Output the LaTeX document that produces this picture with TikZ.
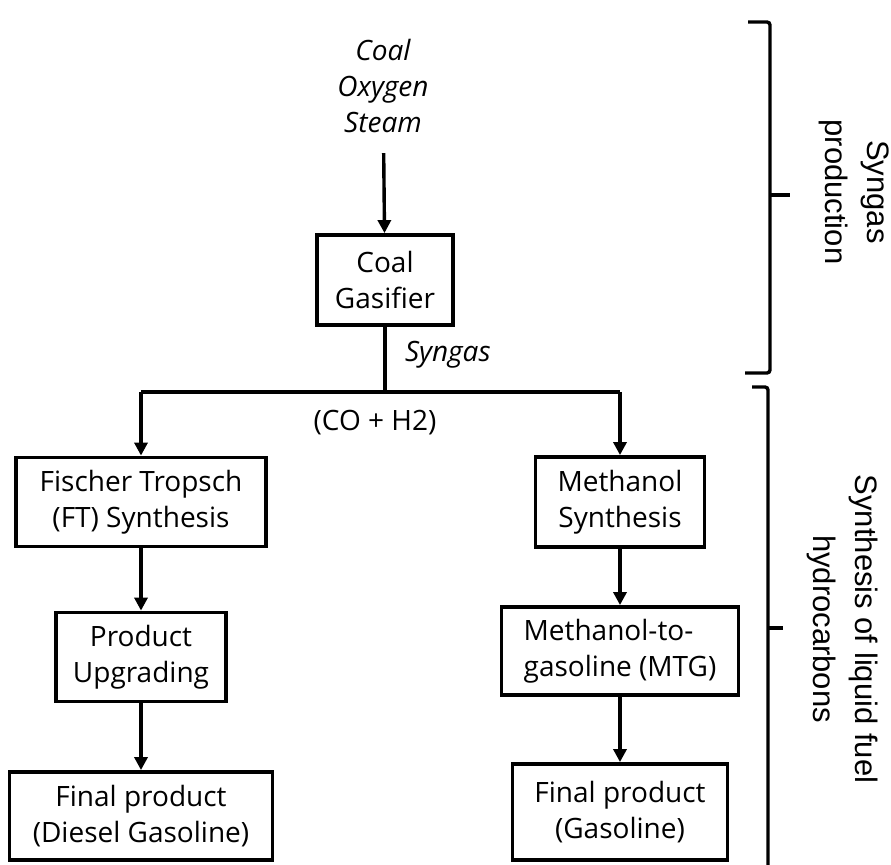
\documentclass[tikz,border=0pt]{standalone}
\usepackage{fontspec}
\setmainfont{Open Sans}
\newfontfamily\braceFont{Liberation Sans}
\usetikzlibrary{arrows.meta}
\newcommand{\boxText}{\fontsize{14}{18}\selectfont}
\newcommand{\braceText}{\braceFont\fontsize{15.5}{21}\selectfont}

\begin{document}
\begin{tikzpicture}[%%
  x=0.5pt,y=-0.5pt,%%
  boxStyle/.style={draw,line width=1.9pt,align=center,inner sep=0pt,font=\boxText},%%
  inputStyle/.style={align=center,font=\boxText\itshape,inner sep=4pt},%%
  arrowStyle/.style={-{Triangle[length=6.5pt,width=6.5pt]},line width=1.7pt},%%
  lineStyle/.style={line width=1.7pt},%%
  braceStyle/.style={line width=1.7pt,rounded corners=1.5pt},%%
  braceLabel/.style={align=center,rotate=-90,font=\braceText}%%
]
%%
%%
\useasboundingbox (0,0) rectangle (891,865);
\pgfmathsetmacro{\leftCol}{141}   %% Centre of the FT branch.
\pgfmathsetmacro{\rightCol}{620}  %% Centre of the methanol branch.
\pgfmathsetmacro{\splitRow}{392}  %% Height of the syngas header line.
%%
%% Syngas production.
\node[inputStyle] (inputs) at (383,86) {Coal\\Oxygen\\Steam};
\node[boxStyle,minimum width=68pt,minimum height=45pt] (gasifier) at (385,280)
  {Coal\\Gasifier};
\coordinate (split) at (385,\splitRow);
\coordinate (leftTop) at (\leftCol,\splitRow);
\coordinate (rightTop) at (\rightCol,\splitRow);
\node[anchor=west,font=\boxText\itshape] (syngas) at (398,355) {Syngas};
\node[font=\boxText] (coh) at (375,423) {(CO + H2)};
%%
%% Fischer Tropsch branch.
\node[boxStyle,minimum width=125pt,minimum height=44.5pt] (ft) at (\leftCol,502)
  {Fischer Tropsch\\(FT) Synthesis};
\node[boxStyle,minimum width=85pt,minimum height=44.5pt] (upgrading) at (\leftCol,657)
  {Product\\Upgrading};
\node[boxStyle,minimum width=131.5pt,minimum height=44pt] (finalLeft) at (\leftCol,816)
  {Final product\\(Diesel Gasoline)};
%%
%% Methanol branch.
\node[boxStyle,minimum width=84.5pt,minimum height=45pt] (methanol) at (\rightCol,502)
  {Methanol\\Synthesis};
\node[boxStyle,align=left,minimum width=118.5pt,minimum height=44pt] (mtg) at (\rightCol,651)
  {Methanol-to-\\gasoline (MTG)};
\node[boxStyle,minimum width=107.5pt,minimum height=48pt] (finalRight) at (\rightCol,812)
  {Final product\\(Gasoline)};
%%
%% Connectors.
\draw[arrowStyle,shorten <=6pt] (inputs) -- (gasifier);
\draw[lineStyle] (gasifier) -- (split);
\draw[lineStyle] (leftTop) -- (rightTop);
\draw[arrowStyle] (leftTop) -- (ft);
\draw[arrowStyle] (ft) -- (upgrading);
\draw[arrowStyle] (upgrading) -- (finalLeft);
\draw[arrowStyle] (rightTop) -- (methanol);
\draw[arrowStyle] (methanol) -- (mtg);
\draw[arrowStyle] (mtg) -- (finalRight);
%%
%% Brackets on the right.
\draw[braceStyle] (748,22) -- (770,22) -- (770,373) -- (745,373);
\draw[lineStyle] (770,195) -- (790,195);
\draw[braceStyle] (752,387) -- (768,387) -- (768,866);
\draw[lineStyle] (768,628) -- (783,628);
\node[braceLabel] (syngasPart) at (854,192) {Syngas\\production};
\node[braceLabel] (liquidPart) at (843,629) {Synthesis of liquid fuel\\hydrocarbons};
\end{tikzpicture}
\end{document}
